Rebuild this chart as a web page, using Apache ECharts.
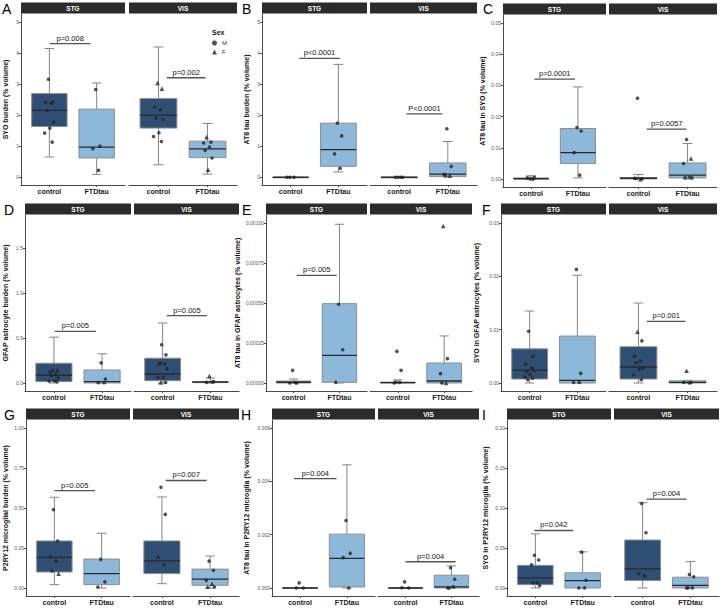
<!DOCTYPE html>
<html><head><meta charset="utf-8">
<script src="https://cdn.jsdelivr.net/npm/echarts@6/dist/echarts.min.js"></script>
<style>html,body{margin:0;padding:0;background:#fff}#c{width:720px;height:612px}</style>
</head><body><div id="c"></div>
<script>
// ---------- data ----------
const facetNames = ['STG', 'VIS'];
const groupNames = ['control', 'FTDtau'];
const panelLetters = ['A','B','C','D','E','F','G','H','I'];
const yTitles = [
  'SYO burden (% volume)',
  'AT8 tau burden (% volume)',
  'AT8 tau in SYO (% volume)',
  'GFAP astrocyte burden (% volume)',
  'AT8 tau in GFAP astrocytes (% volume)',
  'SYO in GFAP astrocytes (% volume)',
  'P2RY12 microglial burden (% volume)',
  'AT8 tau in P2RY12 microglia (% volume)',
  'SYO in P2RY12 microglia (% volume)'
];
const yLimits = [5, 5, 0.05, 1.78, 0.001, 0.03, 1, 0.006, 0.2];
const yTicks = [
  [0,1,2,3,4,5],
  [0,1,2,3,4,5],
  [0,0.01,0.02,0.03,0.04,0.05],
  [0,0.5,1,1.5],
  [0,0.00025,0.0005,0.00075,0.001],
  [0,0.01,0.02,0.03],
  [0,0.25,0.5,0.75,1],
  [0,0.002,0.004,0.006],
  [0,0.05,0.1,0.15,0.2]
];
const yTickDecimals = [0,0,2,1,5,2,2,3,2];

// box stats per facet/group: [lower whisker, Q1, median, Q3, upper whisker]
// order: STG control, STG FTDtau, VIS control, VIS FTDtau
const boxA = [[0.65,1.63,2.15,2.69,4.14],[0.09,0.62,0.97,2.19,3.03],[0.40,1.58,2.00,2.53,4.19],[0.10,0.63,0.91,1.16,1.73]];
const boxB = [[0,0,0,0,0],[0.17,0.35,0.89,1.74,3.63],[0,0,0,0,0],[0,0.02,0.10,0.46,1.15]];
const boxC = [[0,0,0.0002,0.0004,0.0011],[0.0004,0.005,0.0085,0.0162,0.0295],[0,0.0001,0.0003,0.0005,0.0015],[0,0.0004,0.0013,0.0052,0.0114]];
const boxD = [[0,0.015,0.086,0.22,0.51],[0,0,0.015,0.145,0.325],[0,0.026,0.10,0.276,0.668],[0,0.004,0.011,0.015,0.056]];
const boxE = [[0,0,0.000004,0.0000125,0.000025],[0,0.000004,0.000173,0.000496,0.000992],[0,0,0.000002,0.000006,0.00002],[0,0,0.0000125,0.000125,0.000294]];
const boxF = [[0,0.00075,0.0024,0.0064,0.0135],[0,0,0.0005,0.0088,0.0202],[0,0.00075,0.003,0.0068,0.015],[0,0,0.0001,0.0004,0.0005]];
const boxG = [[0.021,0.10,0.191,0.294,0.567],[0,0.021,0.09,0.181,0.342],[0.027,0.09,0.17,0.294,0.569],[0,0.017,0.055,0.118,0.20]];
const boxH = [[0,0,0,0.00001,0.00002],[0,0.00004,0.00111,0.00202,0.00462],[0,0,0,0.00001,0.00002],[0,0,0.00004,0.00048,0.00083]];
const boxI = [[0,0.0042,0.0127,0.0283,0.0677],[0,0,0.0093,0.019,0.0452],[0,0.0093,0.024,0.060,0.1066],[0,0,0.0034,0.0135,0.033]];

// individual points per facet/group
const ptsA = [[3.15,2.42,2.41,2.38,2.15,1.80,1.58,1.42,1.13],[2.82,1.00,0.92,0.22],[3.03,2.85,2.26,2.17,1.91,1.85,1.43,1.31,1.15],[1.29,1.13,1.10,0.97,0.86,0.62,0.24]];
const ptsB = [[0,0,0],[1.74,1.33,0.75,0.29],[0,0,0,0],[1.56,0.35,0.09,0.06,0.06]];
const ptsC = [[0.0001,0.0006,0.0004,0],[0.0165,0.0154,0.0085,0.0013],[0.0259,0.0001,0.0003,0,0.0002],[0.0127,0.0066,0.005,0.0007,0.0005,0.0004]];
const ptsD = [[0.14,0.145,0.12,0.093,0.082,0.056,0.026,0.019,0.015],[0.224,0.045,0.004,0.004],[0.425,0.313,0.22,0.213,0.22,0.157,0.063,0.063,0.007,0.007],[0.078,0.015,0.007,0.011]];
const ptsE = [[0.000079,0,0,0.000002],[0.000492,0.000208,0.000004],[0.000198,0.000079,0,0.000004,0.000006],[0.000981,0.000152,0.0000583,0,0.000001]];
const ptsF = [[0.0097,0.005,0.0035,0.0028,0.0022,0.0025,0.0016,0.0011,0.0009,0.0006],[0.0213,0.0018,0.0001,0.0001],[0.0096,0.0079,0.005,0.0041,0.0038,0.0028,0.0026,0.0015,0.0006],[0.0023,0.0001,0.0001,0]];
const ptsG = [[0.49,0.294,0.20,0.174,0.107,0.09],[0.179,0.038,0.006],[0.63,0.46,0.195,0.147],[0.168,0.111,0.048,0.027,0.008,0.006]];
const ptsH = [[0.00019,0,0],[0.00253,0.0013,0.00114,0],[0.00023,0,0.00001],[0.00076,0.00033,0,0.00004,0]];
const ptsI = [[0.041,0.035,0.029,0.0063,0.0063,0.003],[0.0448,0.0097,0,0.0002],[0.1057,0.069,0.0178,0.0148],[0.0169,0.014,0,0.0002,0.0001]];

// sex of each point (M / F)
const sexA = ['MMMMMFMMM','MMMM','FFMMMMMMM','FMMMMMF'];
const sexB = ['MMM','MMMM','MMMM','MMMFM'];
const sexC = ['MMMM','MMMM','MMMFM','MFMMMM'];
const sexD = ['MFMMMMMMM','MMMM','MMFMMMMMMF','FMMM'];
const sexE = ['MMMM','MMM','MMMMM','FMMFM'];
const sexF = ['MMMMMFMMMM','MMMM','FMMMMMMMM','FMMM'];
const sexG = ['MMFFMF','MMM','MMFM','MMMFFM'];
const sexH = ['MMM','MMMM','MMM','MMMMM'];
const sexI = ['MMMMMM','MMMM','MMMM','MMMMM'];

// p-value annotations per facet: [text, x start, x end, y]
const annA = [['p=0.008',1.01,1.87,4.30],['p=0.002',1.17,1.96,3.20]];
const annB = [['p<0.0001',1.18,2.03,3.82],['P<0.0001',1.15,1.89,2.04]];
const annC = [['p=0.0001',1.07,1.94,0.032],['p=0.0057',1.17,1.98,0.016]];
const annD = [['p=0.005',1.02,1.87,0.575],['p=0.005',1.09,1.93,0.75]];
const annE = [['p=0.005',1.07,1.94,0.000673],null];
const annF = [null,['p=0.001',1.17,1.96,0.01157]];
const annG = [['p=0.005',1.00,1.86,0.609],['p=0.007',1.08,1.93,0.672]];
const annH = [['p=0.004',0.87,1.78,0.0041],['p=0.004',1.00,2.09,0.000985]];
const annI = [['p=0.042',0.98,1.80,0.0719],['p=0.004',1.08,1.92,0.111]];

const allBoxes = [boxA,boxB,boxC,boxD,boxE,boxF,boxG,boxH,boxI];
const allPts = [ptsA,ptsB,ptsC,ptsD,ptsE,ptsF,ptsG,ptsH,ptsI];
const allSex = [sexA,sexB,sexC,sexD,sexE,sexF,sexG,sexH,sexI];
const allAnn = [annA,annB,annC,annD,annE,annF,annG,annH,annI];

// ---------- layout / style ----------
// [STG left, STG right, VIS left, VIS right, plot top, plot bottom]
const layout = [
  [21,125,129,237,14,185],[262,367,370,477,14,185],[503,606,609,717,15,187],
  [25,131,134,239,215,391],[266,367,370,472,215,391],[501,606,609,717,215,391],
  [26,130,133,239,420,596],[272,375,378,479,420,596],[507,611,614,719,420,596]
];
const nameGaps = [12,12,17,16,25,21,17,22,18];
const letterPos = [[2,2],[242,2],[483,2],[4,203],[242,203],[482,203],[4,408],[241,408],[482,408]];
const jitter = [-0.02,0.07,-0.08,0.04,-0.05,0.09,0.01,-0.1,0.06,-0.04];
const FONT = 'Liberation Sans, Arial, sans-serif';
const boxFill = ['#2f4e74','#8cb9d9'];

function boxRender(params, api) {
  const x = api.value(0);
  const v = [1,2,3,4,5].map(i => api.value(i));
  const p = v.map(val => api.coord([x, val]));
  const cx = p[0][0];
  const hw = (api.coord([x + 0.375, v[0]])[0] - api.coord([x - 0.375, v[0]])[0]) / 2;
  const cw = (api.coord([x + 0.1, v[0]])[0] - api.coord([x - 0.1, v[0]])[0]) / 2;
  const ws = {stroke:'#858585', lineWidth:1};
  const top = p[3][1], bot = p[1][1];
  return {type:'group', children:[
    {type:'line', shape:{x1:cx,y1:p[4][1],x2:cx,y2:top}, style:ws},
    {type:'line', shape:{x1:cx,y1:bot,x2:cx,y2:p[0][1]}, style:ws},
    {type:'line', shape:{x1:cx-cw,y1:p[4][1],x2:cx+cw,y2:p[4][1]}, style:ws},
    {type:'line', shape:{x1:cx-cw,y1:p[0][1],x2:cx+cw,y2:p[0][1]}, style:ws},
    {type:'rect', shape:{x:cx-hw,y:top,width:2*hw,height:Math.max(bot-top,0.6)},
      style:{fill:boxFill[params.dataIndex],stroke:'#8e8e8e',lineWidth:1}},
    {type:'line', shape:{x1:cx-hw,y1:p[2][1],x2:cx+hw,y2:p[2][1]}, style:{stroke:'#2a2a2a',lineWidth:1.3}}
  ]};
}

const grids = [], xAxes = [], yAxes = [], series = [], graphics = [];

panelLetters.forEach((letter, pi) => {
  const L = layout[pi];
  const R = yLimits[pi];
  graphics.push({type:'text', x:letterPos[pi][0], y:letterPos[pi][1],
    style:{text:letter, font:'14px ' + FONT, fill:'#000'}});
  facetNames.forEach((facet, fi) => {
    const left = fi === 0 ? L[0] : L[2];
    const right = fi === 0 ? L[1] : L[3];
    const gi = grids.length;
    grids.push({left:left, top:L[4], width:right-left, height:L[5]-L[4], containLabel:false});
    xAxes.push({
      gridIndex:gi, type:'value', min:0.4, max:2.6,
      axisLine:{show:true, onZero:false, lineStyle:{color:'#4a4a4a', width:1}},
      axisTick:{show:true, length:2, customValues:[1,2], lineStyle:{color:'#4a4a4a'}},
      axisLabel:{customValues:[1,2], formatter:v => groupNames[Math.round(v)-1] || '',
        fontSize:7, fontWeight:'bold', color:'#1a1a1a', margin:3, fontFamily:FONT},
      splitLine:{show:false}
    });
    const dec = yTickDecimals[pi];
    yAxes.push({
      gridIndex:gi, type:'value', min:-0.05*R, max:1.05*R, show: fi === 0,
      axisLine:{show:true, onZero:false, lineStyle:{color:'#4a4a4a', width:1}},
      axisTick:{show:true, length:2, customValues:yTicks[pi], lineStyle:{color:'#4a4a4a'}},
      axisLabel:{customValues:yTicks[pi], formatter:v => Number(v).toFixed(dec),
        fontSize:5, color:'#555', margin:2, fontFamily:FONT},
      splitLine:{show:false},
      name: fi === 0 ? yTitles[pi] : '', nameLocation:'middle', nameGap:nameGaps[pi],
      nameTextStyle:{fontSize:7, fontWeight:'bold', color:'#111', fontFamily:FONT}
    });
    // strip
    graphics.push({type:'rect', shape:{x:left, y:L[4]-11.5, width:right-left, height:11},
      style:{fill:'#2b2b2b'}, silent:true});
    graphics.push({type:'text', x:(left+right)/2, y:L[4]-6,
      style:{text:facet, align:'center', verticalAlign:'middle', fill:'#fff', font:'bold 6.5px ' + FONT}});

    // boxes
    const boxes = allBoxes[pi];
    series.push({
      type:'custom', xAxisIndex:gi, yAxisIndex:gi, silent:true, clip:false,
      encode:{x:0, y:[1,2,3,4,5]},
      data: groupNames.map((g, k) => [k+1].concat(boxes[fi*2+k])),
      renderItem: boxRender, z:2
    });
    // points
    const mData = [], fData = [];
    groupNames.forEach((g, k) => {
      const vals = allPts[pi][fi*2+k];
      const sx = allSex[pi][fi*2+k];
      vals.forEach((val, i) => {
        const pt = [k + 1 + jitter[i % jitter.length], val];
        (sx[i] === 'F' ? fData : mData).push(pt);
      });
    });
    series.push({type:'scatter', name:'M', xAxisIndex:gi, yAxisIndex:gi, symbol:'circle',
      symbolSize:3.6, itemStyle:{color:'#262626'}, data:mData, z:5, silent:true});
    series.push({type:'scatter', name:'F', xAxisIndex:gi, yAxisIndex:gi, symbol:'triangle',
      symbolSize:4.6, itemStyle:{color:'#262626'}, data:fData, z:5, silent:true});
    // p-value annotation
    const ann = allAnn[pi][fi];
    if (ann) {
      series.push({
        type:'custom', xAxisIndex:gi, yAxisIndex:gi, silent:true, clip:false,
        encode:{x:[0,1], y:2}, data:[[ann[1], ann[2], ann[3]]], z:6,
        renderItem:(params, api) => {
          const p1 = api.coord([api.value(0), api.value(2)]);
          const p2 = api.coord([api.value(1), api.value(2)]);
          return {type:'group', children:[
            {type:'line', shape:{x1:p1[0],y1:p1[1],x2:p2[0],y2:p2[1]}, style:{stroke:'#555', lineWidth:1.3}},
            {type:'text', x:(p1[0]+p2[0])/2, y:p1[1]-1.5,
              style:{text:ann[0], align:'center', verticalAlign:'bottom', fill:'#111', font:'7.5px ' + FONT}}
          ]};
        }
      });
    }
  });
});

// legend title
graphics.push({type:'text', x:212, y:29, style:{text:'Sex', font:'bold 7px ' + FONT, fill:'#111'}});

const chart = echarts.init(document.getElementById('c'), null, {renderer:'svg', width:720, height:612});
chart.setOption({
  animation:false,
  backgroundColor:'#fff',
  textStyle:{fontFamily:FONT},
  grid:grids, xAxis:xAxes, yAxis:yAxes, series:series,
  legend:{data:[{name:'M', icon:'circle'},{name:'F', icon:'triangle'}], orient:'vertical',
    left:212, top:40, itemWidth:5, itemHeight:5, itemGap:3, selectedMode:false,
    textStyle:{fontSize:6, color:'#333', fontFamily:FONT}, padding:0},
  graphic:graphics
});
</script></body></html>
